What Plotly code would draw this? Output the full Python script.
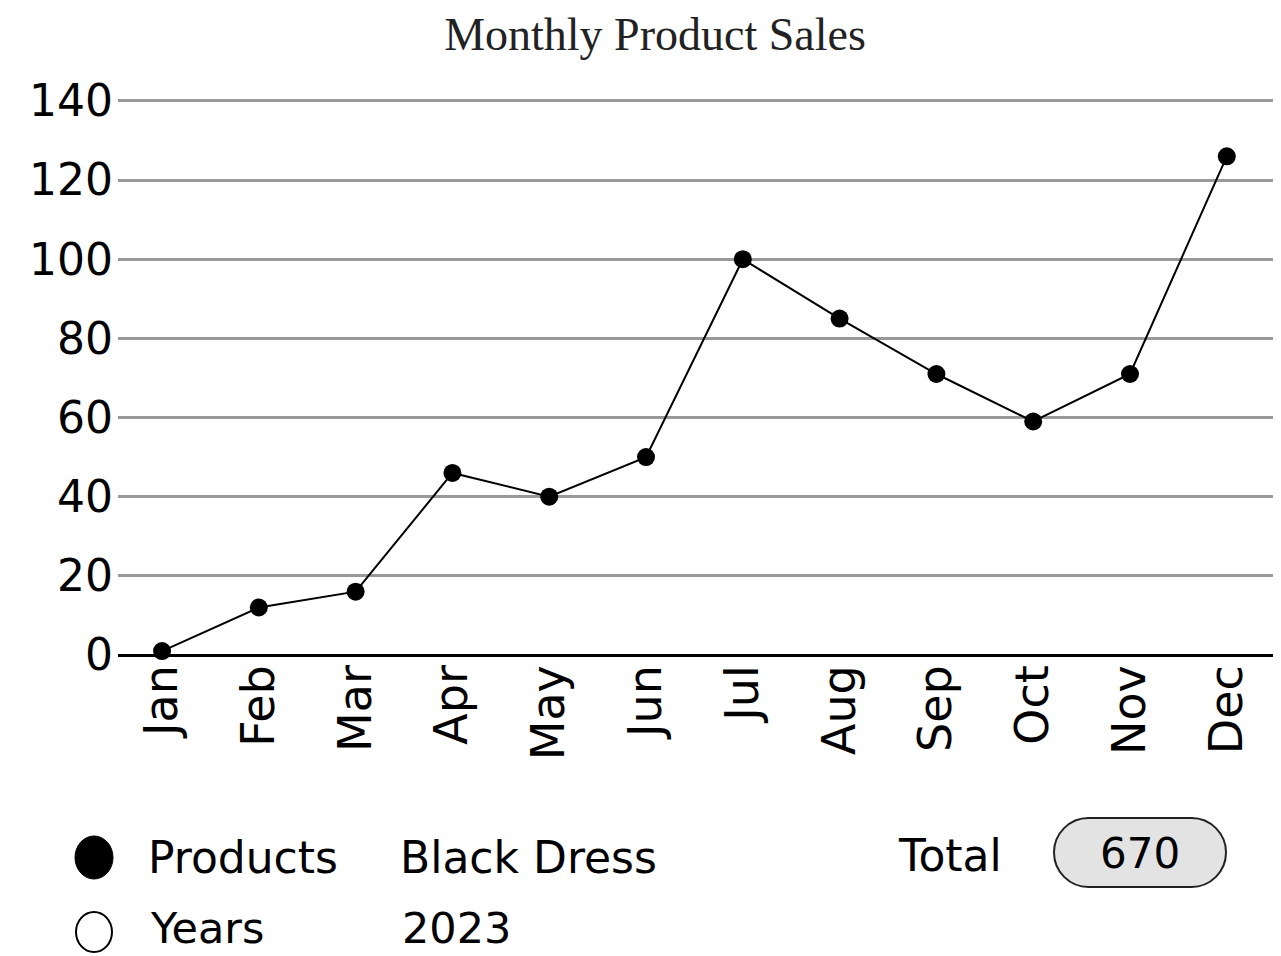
import plotly.graph_objects as go

months = ["Jan", "Feb", "Mar", "Apr", "May", "Jun", "Jul", "Aug", "Sep", "Oct", "Nov", "Dec"]
sales = [1, 12, 16, 46, 40, 50, 100, 85, 71, 59, 71, 126]
y_ticks = [0, 20, 40, 60, 80, 100, 120, 140]
product_label = "Black Dress"
year_label = "2023"
total_label = "670"

OFF = 8  # page body margin
W, H = 1281, 956
L, T = 118 - OFF, 93 - OFF
R = W - (1281 - OFF)
B = H - (655 - OFF)
PW, PH = W - L - R, H - T - B


def px(x):
    return (x - OFF - L) / PW


def py(y):
    return (H - B - (y - OFF)) / PH


HAND = "DejaVu Sans, Lato, sans-serif"

fig = go.Figure()
fig.add_trace(go.Scatter(
    x=list(range(len(months))), y=sales, mode="lines+markers",
    line=dict(color="black", width=2),
    marker=dict(color="black", size=18),
    cliponaxis=False, showlegend=False,
))

fig.update_layout(
    width=W, height=H,
    margin=dict(l=L, r=R, t=T, b=B),
    paper_bgcolor="white", plot_bgcolor="white",
    title=dict(text="Monthly Product Sales", x=((440 + 870) / 2 - OFF) / W, xanchor="center",
               y=1 - (34 - OFF) / H, yanchor="middle",
               font=dict(family="Liberation Serif, DejaVu Serif, serif", size=46, color="#222")),
    xaxis=dict(range=[-0.455, 11.56], tickmode="array", tickvals=list(range(12)), ticktext=months,
               tickangle=-90, showgrid=False, zeroline=False, showline=False, ticks="",
               tickfont=dict(family=HAND, size=46, color="black"), fixedrange=True),
    yaxis=dict(range=[0, 142], tickmode="array", tickvals=y_ticks, showgrid=True,
               gridcolor="#999999", gridwidth=3, zeroline=True, zerolinecolor="black",
               zerolinewidth=3, ticks="", ticklabelstandoff=4,
               tickfont=dict(family=HAND, size=44, color="black"), fixedrange=True),
)

# legend-like block
fig.add_shape(type="circle", xref="paper", yref="paper",
              x0=px(75), x1=px(113), y0=py(879), y1=py(836),
              fillcolor="black", line=dict(color="black", width=1))
fig.add_shape(type="circle", xref="paper", yref="paper",
              x0=px(76), x1=px(112), y0=py(952), y1=py(912),
              fillcolor="white", line=dict(color="black", width=2))


def txt(x, y, s, size=44):
    fig.add_annotation(x=px(x), y=py(y), xref="paper", yref="paper", text=s,
                       showarrow=False, xanchor="left", yanchor="middle",
                       font=dict(family=HAND, size=size, color="black"))


txt(146, 857, "Products")
txt(398, 857, product_label)
txt(148, 928, "Years", size=43)
txt(400, 928, year_label, size=43)
txt(896, 855, "Total")

# pill-shaped box around total
x0, x1, y0, y1 = 1054, 1226, 818, 887
r = (y1 - y0) / 2
k = 0.5523 * r
pts = [
    ("M", [(x0 + r, y0)]),
    ("L", [(x1 - r, y0)]),
    ("C", [(x1 - r + k, y0), (x1, y0 + r - k), (x1, y0 + r)]),
    ("C", [(x1, y0 + r + k), (x1 - r + k, y1), (x1 - r, y1)]),
    ("L", [(x0 + r, y1)]),
    ("C", [(x0 + r - k, y1), (x0, y0 + r + k), (x0, y0 + r)]),
    ("C", [(x0, y0 + r - k), (x0 + r - k, y0), (x0 + r, y0)]),
]
path = ""
for cmd, ps in pts:
    path += cmd + " " + " ".join(f"{px(a):.5f},{py(b):.5f}" for a, b in ps) + " "
path += "Z"
fig.add_shape(type="path", xref="paper", yref="paper", path=path,
              fillcolor="#e3e3e3", line=dict(color="#222", width=2))
fig.add_annotation(x=px(1140), y=py(853), xref="paper", yref="paper", text=total_label,
                   showarrow=False, xanchor="center", yanchor="middle",
                   font=dict(family=HAND, size=42, color="black"))

fig.write_html("out.html")
